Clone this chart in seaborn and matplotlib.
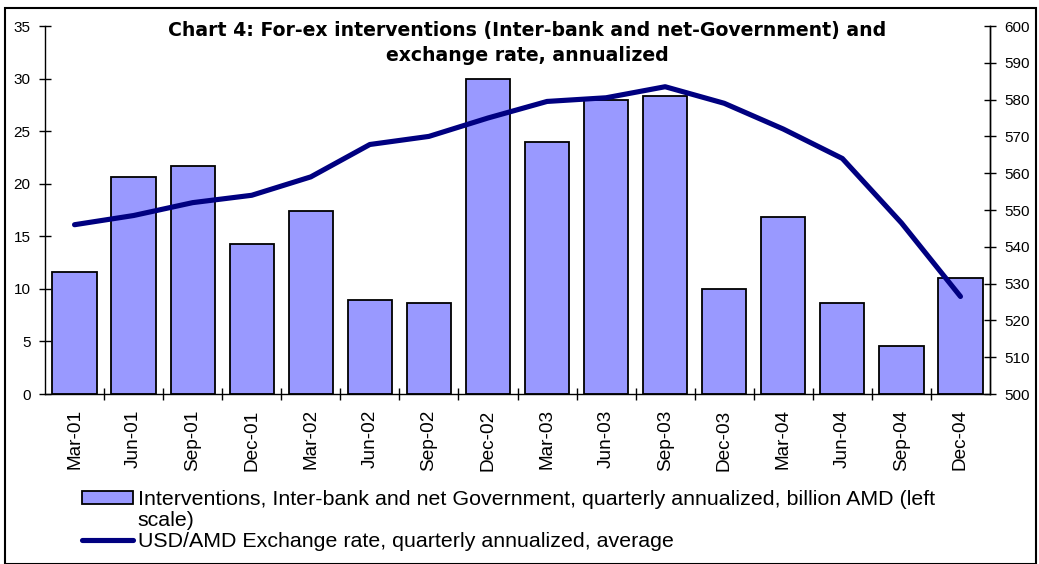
import matplotlib
matplotlib.use("Agg")
import matplotlib.pyplot as plt
import matplotlib.patches as mpatches
import matplotlib.lines as mlines
from matplotlib.ticker import FixedLocator
import seaborn as sns
import numpy as np
import pandas as pd

categories = ["Mar-01", "Jun-01", "Sep-01", "Dec-01", "Mar-02", "Jun-02", "Sep-02", "Dec-02",
              "Mar-03", "Jun-03", "Sep-03", "Dec-03", "Mar-04", "Jun-04", "Sep-04", "Dec-04"]
interventions = [11.6, 20.6, 21.7, 14.3, 17.4, 8.9, 8.7, 30.0,
                 24.0, 28.0, 28.3, 10.0, 16.8, 8.7, 4.6, 11.0]
exchange_rate = [546.0, 548.5, 552.0, 554.0, 559.0, 567.8, 570.0, 575.0,
                 579.5, 580.5, 583.5, 579.0, 572.0, 564.0, 546.5, 526.5]
left_ticks = [0, 5, 10, 15, 20, 25, 30, 35]
right_ticks = [500, 510, 520, 530, 540, 550, 560, 570, 580, 590, 600]

title_text = "Chart 4: For-ex interventions (Inter-bank and net-Government) and\nexchange rate, annualized"
bar_label = "Interventions, Inter-bank and net Government, quarterly annualized, billion AMD (left"
bar_label_cont = "scale)"
line_label = "USD/AMD Exchange rate, quarterly annualized, average"

sns.set_theme(style="white")
plt.rcParams["font.family"] = ["Liberation Sans", "DejaVu Sans"]
plt.rcParams["text.color"] = "black"
plt.rcParams["xtick.color"] = "black"
plt.rcParams["ytick.color"] = "black"
plt.rcParams["xtick.labelcolor"] = "black"
plt.rcParams["ytick.labelcolor"] = "black"

W, H = 1039, 564
fig = plt.figure(figsize=(W / 100, H / 100), dpi=100)
ax = fig.add_axes([45 / W, 1 - 394 / H, (990 - 45) / W, (394 - 26) / H])

df = pd.DataFrame({"cat": categories, "val": interventions})
sns.barplot(data=df, x="cat", y="val", color="#9999FF", saturation=1, width=0.75,
            edgecolor="black", linewidth=1.3, ax=ax)
ax.set_xlim(-0.5, len(categories) - 0.5)
ax.set_ylim(left_ticks[0], left_ticks[-1])
ax.set_yticks(left_ticks)
ax.set_xlabel("")
ax.set_ylabel("")
ax.set_xticks(range(len(categories)))
ax.set_xticklabels(categories, rotation=90, fontsize=13.7, color="black")
ax.xaxis.set_minor_locator(FixedLocator(np.arange(0.5, len(categories) - 0.5, 1.0)))
ax.tick_params(axis="x", which="major", length=0, pad=11)
ax.tick_params(axis="x", which="minor", length=9, width=1, direction="inout", color="black", bottom=True)
ax.tick_params(axis="y", which="major", length=9, width=1, direction="inout", color="black",
               labelcolor="black", labelsize=11, left=True, pad=6)
ax.spines["top"].set_visible(False)
for s in ["left", "bottom", "right"]:
    ax.spines[s].set_color("black")
    ax.spines[s].set_linewidth(1)

ax2 = ax.twinx()
xs = np.arange(len(categories))
sns.lineplot(x=xs, y=exchange_rate, color="#000080", linewidth=3.7, ax=ax2,
             solid_capstyle="round", solid_joinstyle="round")
ax2.set_ylim(right_ticks[0], right_ticks[-1])
ax2.set_yticks(right_ticks)
ax2.tick_params(axis="y", which="major", length=9, width=1, direction="inout", color="black",
                labelcolor="black", labelsize=11, right=True, pad=6)
for s in ["top", "left", "bottom"]:
    ax2.spines[s].set_visible(False)
ax2.spines["right"].set_color("black")
ax2.spines["right"].set_linewidth(1)
ax2.set_xlim(-0.5, len(categories) - 0.5)

fig.text(527 / W, 1 - 21 / H, title_text, ha="center", va="top", fontsize=13.6,
         fontweight="bold", family="DejaVu Sans", color="black", linespacing=1.4)

handles = [mpatches.Patch(facecolor="#9999FF", edgecolor="black", linewidth=1.3),
           mpatches.Patch(facecolor="none", edgecolor="none"),
           mlines.Line2D([], [], color="#000080", linewidth=3.7)]
labels = [bar_label, bar_label_cont, line_label]
leg = fig.legend(handles, labels, loc="upper left", bbox_to_anchor=(82 / W, 1 - 490 / H),
                 frameon=False, handlelength=2.4, handleheight=0.58,
                 handletextpad=0.2, labelspacing=0.1, borderpad=0, borderaxespad=0,
                 prop={"family": "Liberation Sans", "size": 15.4})
for t in leg.get_texts():
    t.set_color("black")

fig.add_artist(mpatches.Rectangle((5 / W, 0), (1036 - 5) / W, 1 - 8 / H, transform=fig.transFigure,
                                  fill=False, edgecolor="black", linewidth=1.5))

fig.savefig("out.png", dpi=100)
